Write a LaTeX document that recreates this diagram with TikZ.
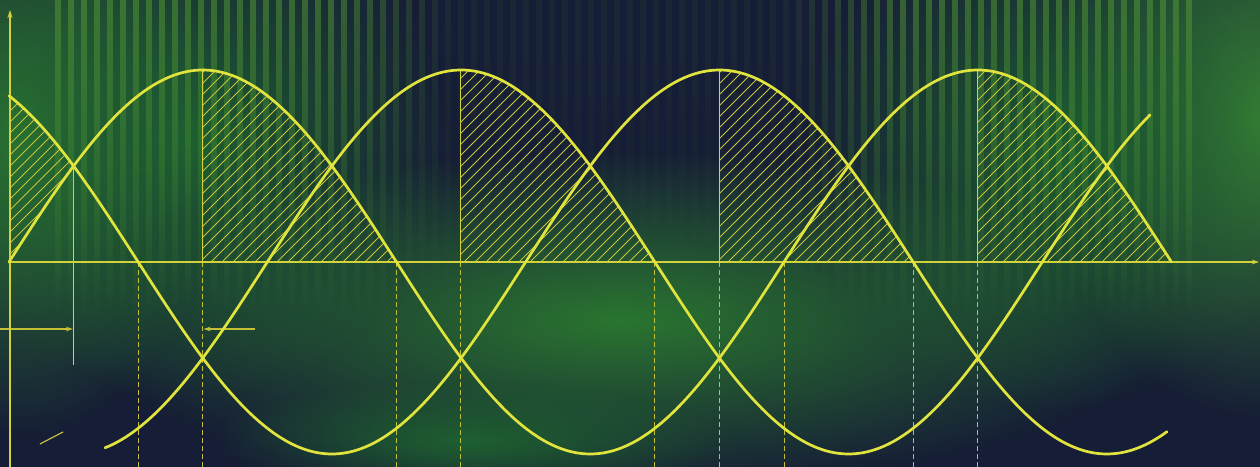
\documentclass[tikz,border=0pt]{standalone}
\usetikzlibrary{arrows.meta,fadings}
\definecolor{navy}{HTML}{161D36}
\definecolor{glowA}{HTML}{2E7A32}
\definecolor{glowB}{HTML}{3A8535}
\definecolor{glowC}{HTML}{1E6030}
\definecolor{glowD}{HTML}{2A7530}
\definecolor{stripe}{HTML}{5FA834}
\definecolor{curve}{HTML}{E2E43E}
\definecolor{axisc}{HTML}{D2D23C}
\definecolor{hatchc}{HTML}{C8C43A}
\definecolor{dashc}{HTML}{C4BE38}
\tikzfading[name=bandfade, top color=transparent!100, middle color=transparent!0, bottom color=transparent!100]
\tikzfading[name=topband, top color=transparent!10, middle color=transparent!0, bottom color=transparent!100]
\tikzfading[name=softglow, inner color=transparent!0, outer color=transparent!100]
\begin{document}
\begin{tikzpicture}[x=1bp,y=-1bp,
  wave/.style={curve, line width=2.7bp, line cap=round},
  axisline/.style={axisc, line width=1.6bp},
  hatchline/.style={hatchc, line width=0.9bp},
  dropline/.style={dashc, line width=1.6bp, dash pattern=on 5bp off 3bp},
  peakline/.style={axisc, line width=1.6bp},
  marker/.style={dashc, line width=1.3bp, -{Stealth[length=7bp,width=4.5bp]}},
  glow/.style={path fading=softglow},
  declare function={phase(\x)=(\x-9)*0.464516;
    waveA(\x)=262-192*sin(phase(\x));
    waveB(\x)=262-192*sin(phase(\x)+120);
    waveC(\x)=262-192*sin(phase(\x)+240);}
]
\useasboundingbox (0,0) rectangle (1260,467);
% ---------- background ----------
\fill[navy] (0,0) rectangle (1260,467);
\fill[glowA, glow] (20,140) ellipse [x radius=200bp, y radius=300bp];
\fill[glowB, glow] (1260,120) ellipse [x radius=220bp, y radius=300bp];
\fill[glowC, glow] (190,140) ellipse [x radius=260bp, y radius=260bp];
\fill[glowC, glow] (1060,150) ellipse [x radius=260bp, y radius=260bp];
\fill[glowD, glow] (620,320) ellipse [x radius=560bp, y radius=170bp];
\fill[glowC, glow] (470,440) ellipse [x radius=260bp, y radius=60bp];
\foreach \sx in {55,68,...,1195}{
  \pgfmathsetmacro\op{max(0.08,0.5-max(0,min(\sx-330,900-\sx))*0.0035)}
  \fill[stripe, opacity=\op, path fading=topband] (\sx,0) rectangle (\sx+6,320);
  \pgfmathsetmacro\ob{max(0,0.55*(1-abs(\sx-620)/500))}
  \fill[stripe, opacity=\ob, path fading=bandfade] (\sx,230) rectangle (\sx+6,445);
}
% ---------- key points ----------
\coordinate (O) at (10,262);
\coordinate (X) at (73.5,166);
\coordinate (Xlow) at (73.5,365);
% ---------- hatching ----------
\begin{scope}
  \clip plot[domain=9:73.58, samples=30] (\x,{waveB(\x)}) -- plot[domain=73.58:9, samples=30] (\x,{waveA(\x)}) -- cycle
        (202.75,262) -- plot[domain=202.75:396.5, samples=60] (\x,{waveA(\x)}) -- cycle
        (461.08,262) -- plot[domain=461.08:654.83, samples=60] (\x,{waveC(\x)}) -- cycle
        (719.42,262) -- plot[domain=719.42:913.17, samples=60] (\x,{waveB(\x)}) -- cycle
        (977.75,262) -- plot[domain=977.75:1171.5, samples=60] (\x,{waveA(\x)}) -- cycle;
  \foreach \k in {-480,-469,...,1270} \draw[hatchline] (\k,480) -- (\k+480,0);
\end{scope}
% ---------- verticals ----------
\foreach \vx in {138.5,202.5,396.5,460.5,654.5,719.5,784.5,913.5,977.5}
  \draw[dropline] (\vx,262) -- (\vx,467);
\draw[axisline] (202.5,{waveA(202.75)}) -- (202.5,262);
\foreach \vx/\f in {460.5/waveC,719.5/waveB,977.5/waveA}
  \draw[peakline] (\vx,{\f(\vx)}) -- (\vx,262);
\draw[peakline] (X) -- (Xlow);
% ---------- markers ----------
\coordinate (m1s) at (0,329);
\coordinate (m1e) at (73,329);
\coordinate (m2s) at (255,329);
\coordinate (m2e) at (203.5,329);
\draw[marker] (m1s) -- (m1e);
\draw[marker] (m2s) -- (m2e);
\draw[dashc, line width=1.2bp] (40,444) -- (63,432);
% ---------- axes ----------
\draw[axisline, -{Stealth[length=8bp,width=5bp]}] (10,467) -- (10,10);
\draw[axisline, -{Stealth[length=7bp,width=4.5bp]}] (O) -- (1259,262);
% ---------- waves ----------
\draw[wave] plot[domain=9:1171.5, samples=320] (\x,{waveA(\x)});
\draw[wave] plot[domain=9:1167, samples=320] (\x,{waveB(\x)});
\draw[wave] plot[domain=105:1150, samples=300] (\x,{waveC(\x)});
\end{tikzpicture}
\end{document}
